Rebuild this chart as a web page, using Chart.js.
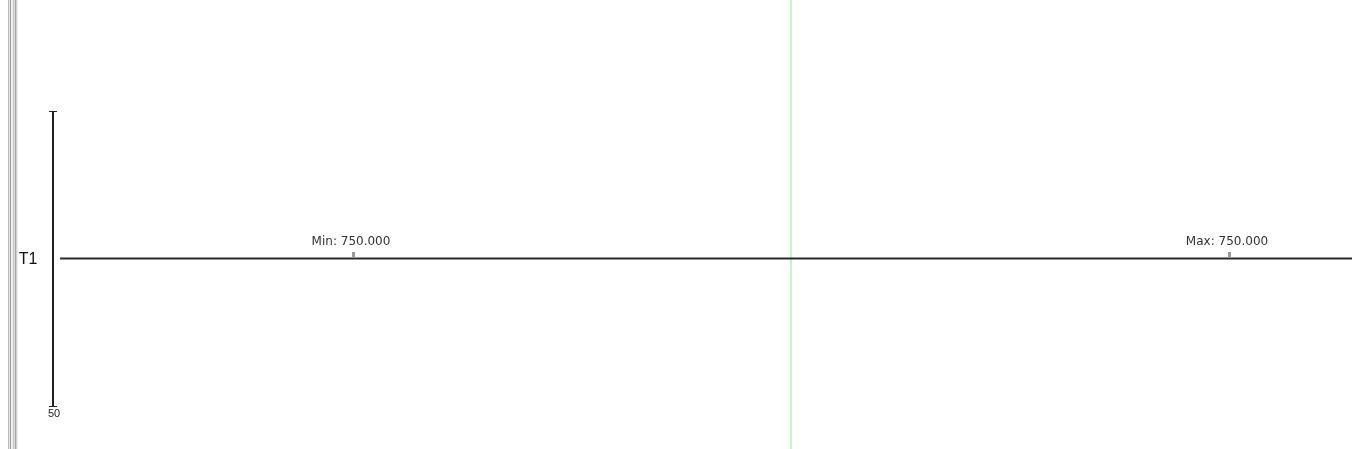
<!DOCTYPE html>
<html>
<head>
<meta charset="utf-8">
<script src="https://cdn.jsdelivr.net/npm/chart.js@4.4.0/dist/chart.umd.min.js"></script>
<style>
  html, body { margin: 0; padding: 0; background: #ffffff; }
  #wrap { width: 1352px; height: 449px; position: relative; }
</style>
</head>
<body>
<div id="wrap"><canvas id="c" width="1352" height="449"></canvas></div>
<script>
// ---- data ----
const seriesName = "T1";
const timeX = [0, 22.68, 56.58, 90.48, 100];
const t1Values = [750, 750, 750, 750, 750];
const yMin = 50;
const yMax = 1450;
const xMin = 0;
const xMax = 100;
const yTickLabels = ["50"];
const markerLabels = ["Min: 750.000", "Max: 750.000"];
const markerX = [22.68, 90.48];
const markerY = [750, 750];
const cursorX = 56.58;

const points = timeX.map((x, i) => ({ x: x, y: t1Values[i] }));

const decorPlugin = {
  id: 'decor',
  beforeDatasetsDraw(chart) {
    const ctx = chart.ctx;
    const xs = chart.scales.x, ys = chart.scales.y;
    const ca = chart.chartArea;
    ctx.save();
    // left window border stripes
    const stripes = ['#b8b8b8', '#e6e6e6', '#9c9c9c', '#efefef', '#efefef', '#c2c2c2', '#e0e0e0', '#a4a4a4', '#d2d2d2', '#ececec'];
    stripes.forEach((c, i) => { ctx.fillStyle = c; ctx.fillRect(8 + i, 0, 1, chart.height); });
    // cursor line
    const cx = Math.round(xs.getPixelForValue(cursorX));
    ctx.strokeStyle = '#b8f0b8';
    ctx.lineWidth = 1.5;
    ctx.beginPath(); ctx.moveTo(cx, 0); ctx.lineTo(cx, chart.height); ctx.stroke();
    // y axis line with caps
    const ax = ca.left - 7;
    const yt = Math.round(ys.getPixelForValue(yMax)) + 0.5;
    const yb = Math.round(ys.getPixelForValue(yMin)) + 0.5;
    ctx.strokeStyle = '#222';
    ctx.lineWidth = 2;
    ctx.beginPath();
    ctx.moveTo(ax, yt - 0.5); ctx.lineTo(ax, yb + 0.5);
    ctx.stroke();
    ctx.lineWidth = 1;
    ctx.beginPath();
    ctx.moveTo(ax - 4, yt); ctx.lineTo(ax + 4, yt);
    ctx.moveTo(ax - 4, yb); ctx.lineTo(ax + 4, yb);
    ctx.stroke();
    // bottom tick label
    ctx.fillStyle = '#222';
    ctx.font = '11px "Liberation Sans", Arial, sans-serif';
    ctx.textAlign = 'center';
    ctx.textBaseline = 'top';
    ctx.fillText(yTickLabels[0], ax + 1, yb + 1.5);
    // series name
    ctx.font = '16px "Liberation Sans", Arial, sans-serif';
    ctx.textAlign = 'center';
    ctx.textBaseline = 'middle';
    ctx.fillStyle = '#111';
    ctx.fillText(seriesName, 28, ys.getPixelForValue(t1Values[0]) + 1);
    ctx.restore();
  },
  afterDatasetsDraw(chart) {
    const ctx = chart.ctx;
    const xs = chart.scales.x, ys = chart.scales.y;
    ctx.save();
    markerLabels.forEach((lab, i) => {
      const px = Math.round(xs.getPixelForValue(markerX[i]));
      const py = Math.round(ys.getPixelForValue(markerY[i]));
      ctx.fillStyle = '#9a9a9a';
      ctx.fillRect(px - 1, py - 7, 3, 6);
      ctx.fillStyle = '#333';
      ctx.font = '12px "DejaVu Sans", sans-serif';
      ctx.textAlign = 'center';
      ctx.textBaseline = 'alphabetic';
      ctx.fillText(lab, px - 2, py - 14);
    });
    ctx.restore();
  }
};

new Chart(document.getElementById('c'), {
  type: 'scatter',
  data: {
    datasets: [{
      label: seriesName,
      data: points,
      showLine: true,
      borderColor: '#2a2a2a',
      borderWidth: 2,
      pointRadius: 0,
      pointHoverRadius: 0,
      tension: 0
    }]
  },
  options: {
    responsive: false,
    animation: false,
    events: [],
    layout: { padding: { left: 60, right: 0, top: 111, bottom: 43 } },
    plugins: { legend: { display: false }, tooltip: { enabled: false } },
    scales: {
      x: { type: 'linear', min: xMin, max: xMax, display: false },
      y: { type: 'linear', min: yMin, max: yMax, display: false }
    }
  },
  plugins: [decorPlugin]
});
</script>
</body>
</html>
